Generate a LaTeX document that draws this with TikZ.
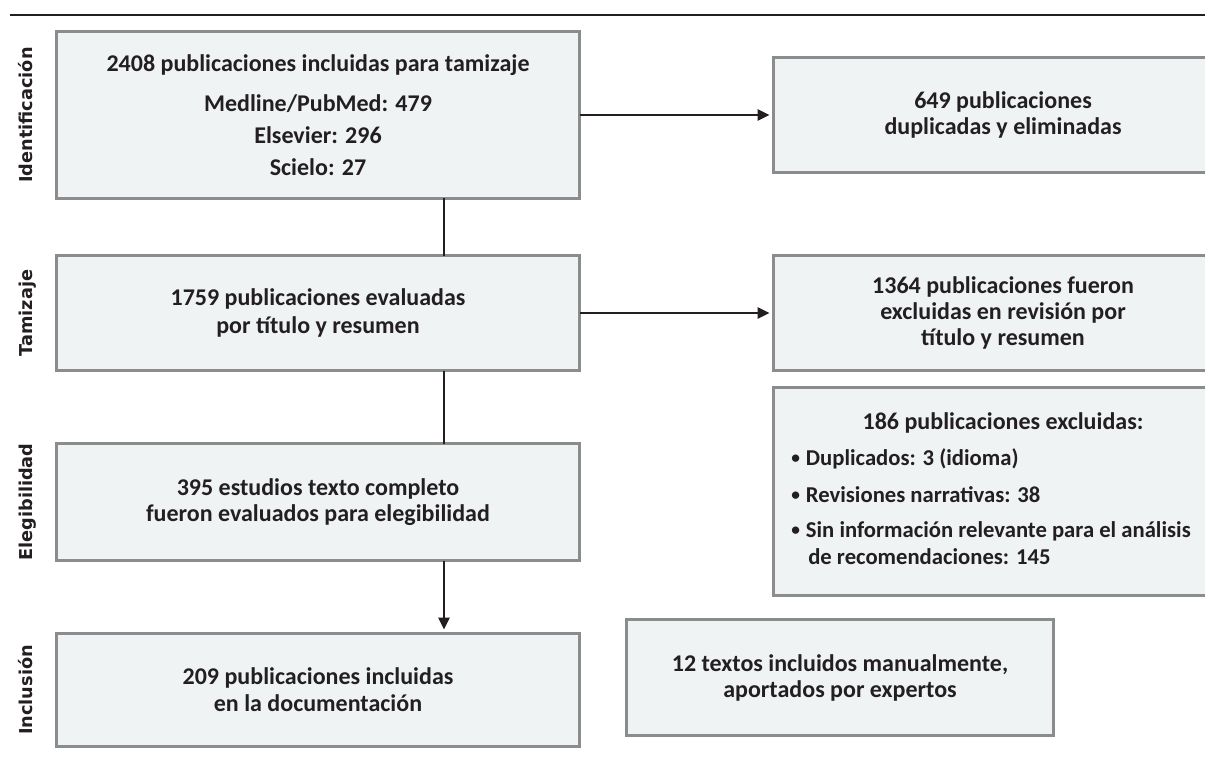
\documentclass[tikz,border=0pt]{standalone}
\usepackage{fontspec}
\setmainfont{Carlito}
\newfontfamily\phasefont{DejaVu Sans}
\usetikzlibrary{arrows.meta}
\definecolor{boxfill}{HTML}{EFF3F4}
\definecolor{boxline}{HTML}{8B8C8E}
\definecolor{ink}{HTML}{231F20}
\newcommand{\smallbullet}{\raisebox{0.9pt}{\fontsize{13}{13}\selectfont •}\hspace{4.5pt}}
\tikzset{
  flowbox/.style={draw=boxline, line width=2.25pt, fill=boxfill, inner sep=0pt, outer sep=0pt,
    align=center, text=ink, font=\fontsize{18}{19.5}\selectfont\bfseries},
  boxtext/.style={text=ink, inner sep=0pt, font=\fontsize{17}{19}\selectfont\bfseries},
  phase/.style={rotate=90, anchor=base, inner sep=0pt, text=ink,
    font=\phasefont\fontsize{13.3}{15}\selectfont\bfseries},
  link/.style={draw=ink, line width=1.5pt},
  flowarrow/.style={link, -{Triangle[length=9pt,width=8.5pt]}, shorten >=3pt},
}
\begin{document}
\begin{tikzpicture}[x=0.75pt,y=-0.75pt]
\path[use as bounding box, clip] (0,0) rectangle (1205,759);

% top rule
\coordinate (ruleL) at (10,15);
\coordinate (ruleR) at (1210,15);
\draw[draw=ink, line width=2.1pt] (ruleL) -- (ruleR);

% phase labels
\node[phase] (pId) at (32.5,115) {Identificación};
\node[phase] (pTa) at (32.5,313) {Tamizaje};
\node[phase] (pEl) at (32.5,502) {Elegibilidad};
\node[phase] (pIn) at (32.5,690) {Inclusión};

% left column
\node[flowbox, minimum width={523*0.75pt}, minimum height={167*0.75pt}] (A) at (318,115)
  {2408 publicaciones incluidas para tamizaje\\[10.5pt]Medline/PubMed: 479\\[4.5pt]Elsevier: 296\\[4.5pt]Scielo: 27};
\node[flowbox, minimum width={523*0.75pt}, minimum height={115*0.75pt}] (T) at (318,313)
  {1759 publicaciones evaluadas\\[1.5pt]por título y resumen};
\node[flowbox, minimum width={523*0.75pt}, minimum height={117*0.75pt}] (E) at (318,502)
  {395 estudios texto completo\\fueron evaluados para elegibilidad};
\node[flowbox, minimum width={523*0.75pt}, minimum height={113*0.75pt}] (I) at (318,690)
  {209 publicaciones incluidas\\[0.75pt]en la documentación};

% right column
\node[flowbox, minimum width={459*0.75pt}, minimum height={115*0.75pt}] (B) at (1003,115)
  {649 publicaciones\\duplicadas y eliminadas};
\node[flowbox, minimum width={459*0.75pt}, minimum height={115*0.75pt}] (C) at (1003,313)
  {1364 publicaciones fueron\\excluidas en revisión por\\título y resumen};
\node[flowbox, minimum width={459*0.75pt}, minimum height={208*0.75pt}] (D) at (1003,491.5) {};
\node[boxtext, anchor=base, font=\fontsize{18}{19.5}\selectfont\bfseries] (D0) at (1003,429) {186 publicaciones excluidas:};
\node[boxtext, anchor=base west] (D1) at (791,465) {\smallbullet Duplicados: 3 (idioma)};
\node[boxtext, anchor=base west] (D2) at (791,502) {\smallbullet Revisiones narrativas: 38};
\node[boxtext, anchor=base west] (D3) at (791,537) {\smallbullet Sin información relevante para el análisis};
\node[boxtext, anchor=base west] (D4) at (808,564) {de recomendaciones: 145};

\node[flowbox, minimum width={427*0.75pt}, minimum height={116*0.75pt}] (M) at (840,677.5)
  {12 textos incluidos manualmente,\\aportados por expertos};

% connectors
\coordinate (vx) at (444,0);
\draw[link] (vx |- A.south) -- (vx |- T.north);
\draw[link] (vx |- T.south) -- (vx |- E.north);
\draw[flowarrow] (vx |- E.south) -- (vx |- I.north);
\draw[flowarrow] (A.east) -- (B.west);
\draw[flowarrow] (T.east) -- (C.west);
\end{tikzpicture}
\end{document}
